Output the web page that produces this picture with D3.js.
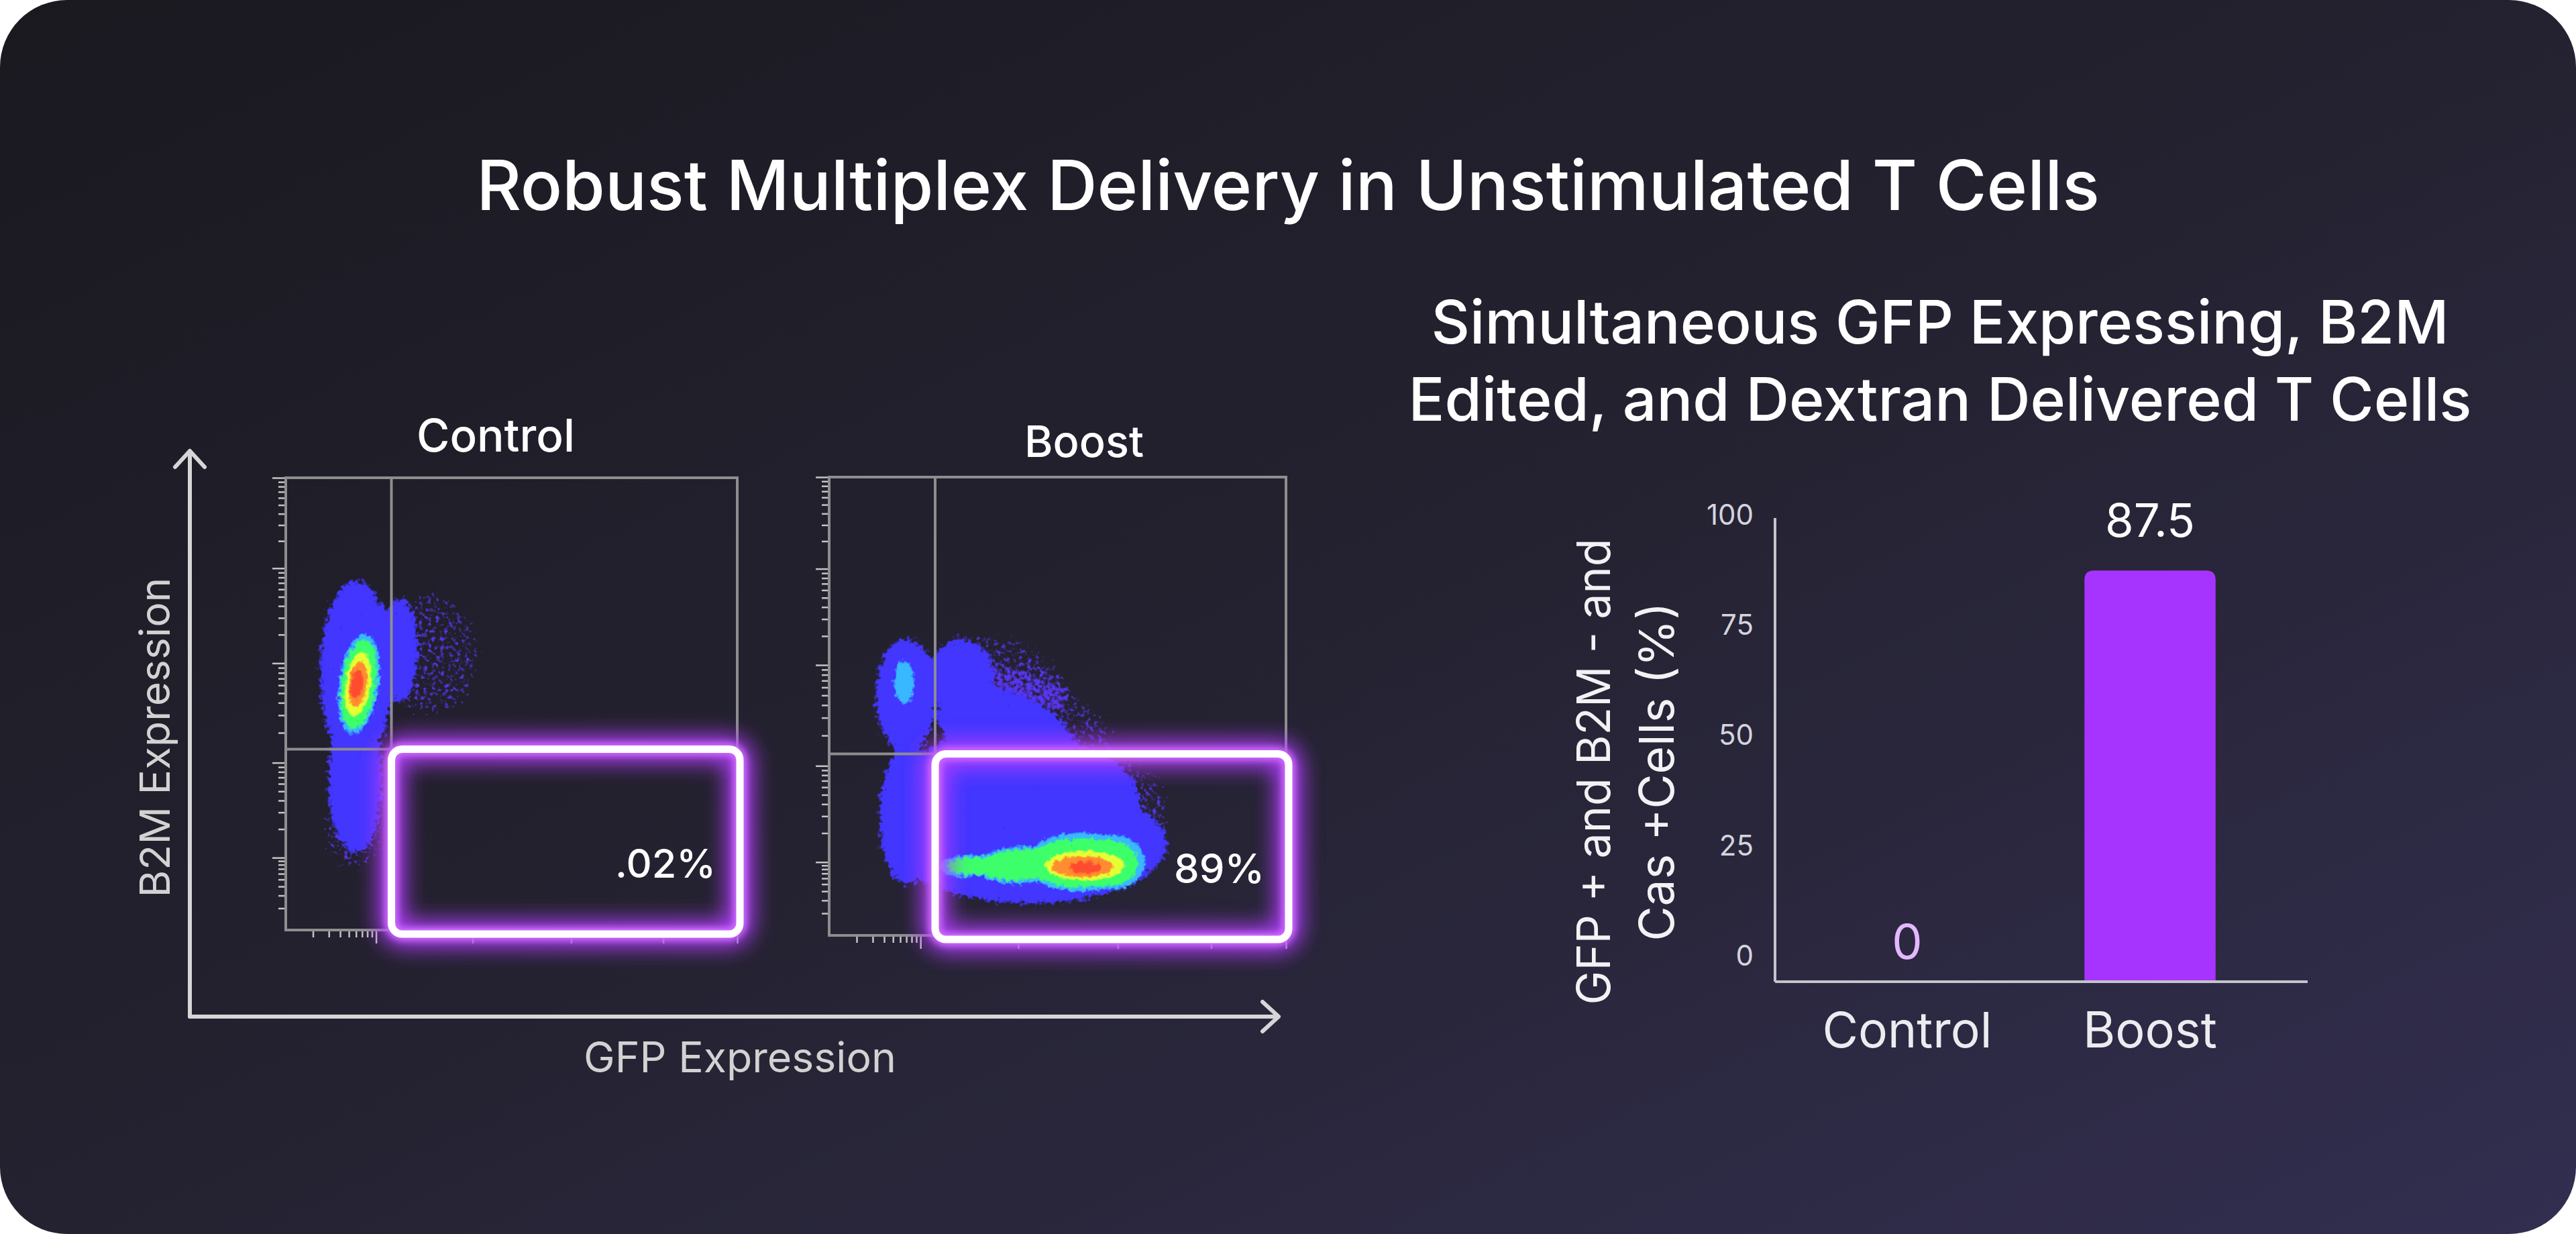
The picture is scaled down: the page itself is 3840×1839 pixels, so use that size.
<!DOCTYPE html>
<html><head><meta charset="utf-8">
<script src="https://cdn.jsdelivr.net/npm/d3@7"></script>
<style>html,body{margin:0;padding:0;background:#ffffff;overflow:hidden}svg{display:block}</style>
</head><body>
<svg id="c" width="3840" height="1839"></svg>
<script>
// ---------------- DATA ----------------
const titleText = "Robust Multiplex Delivery in Unstimulated T Cells";
const subtitleLines = ["Simultaneous GFP Expressing, B2M", "Edited, and Dextran Delivered T Cells"];
const barCategories = ["Control", "Boost"];
const barValues = [0, 87.5];
const barValueLabels = ["0", "87.5"];
const barTicks = [0, 25, 50, 75, 100];
const barYTitle = ["GFP + and B2M - and", "Cas +Cells (%)"];
const flowPanels = ["Control", "Boost"];
const flowGateLabels = [".02%", "89%"];
const flowGateX = [1.17, 1.16];
const flowGateY = [2.0, 1.98];
const flowXMajor = [1.0, 2.07, 3.16, 4.18, 5.0];
const flowYMajor = [0.8, 1.85, 2.95, 4.0, 5.0];
const flowXLabel = "GFP Expression";
const flowYLabel = "B2M Expression";
// density populations: [level, cx, cy, rx, ry, tiltDeg]  (axis units, 0..5 decades)
const controlDensity = [
  [0, 1.6, 3.05, 0.55, 0.7, 0],
  [0, 0.75, 1.1, 0.35, 0.45, 0],
  [1, 0.78, 2.85, 0.40, 1.02, 0],
  [1, 0.77, 1.65, 0.30, 0.80, 0],
  [1, 1.26, 3.1, 0.2, 0.58, 0],
  [2, 0.81, 2.72, 0.22, 0.56, 8],
  [3, 0.81, 2.72, 0.19, 0.50, 8],
  [4, 0.80, 2.72, 0.14, 0.36, 8],
  [5, 0.80, 2.72, 0.10, 0.26, 8],
  [6, 0.79, 2.72, 0.065, 0.17, 8]
];
const boostDensity = [
  [0, 2.15, 2.3, 1.05, 0.55, 18],
  [0, 1.9, 2.85, 0.75, 0.42, 20],
  [0, 3.2, 1.35, 0.55, 0.55, 0],
  [1, 0.84, 2.62, 0.33, 0.62, 0],
  [1, 1.45, 2.85, 0.35, 0.38, 0],
  [1, 1.95, 2.2, 0.80, 0.45, 22],
  [1, 2.2, 1.0, 1.5, 0.65, 0],
  [1, 2.1, 1.6, 1.3, 0.6, 5],
  [1, 0.85, 1.3, 0.30, 0.75, 0],
  [2, 0.82, 2.76, 0.11, 0.24, 0],
  [2, 1.5, 0.76, 0.30, 0.12, -3],
  [2, 2.1, 0.77, 0.50, 0.20, -3],
  [2, 2.75, 0.80, 0.60, 0.32, 0],
  [2, 3.1, 0.80, 0.36, 0.30, 0],
  [3, 1.55, 0.76, 0.26, 0.095, -3],
  [3, 2.1, 0.77, 0.47, 0.17, -3],
  [3, 2.75, 0.79, 0.56, 0.27, 0],
  [3, 3.05, 0.79, 0.33, 0.25, 0],
  [4, 2.8, 0.76, 0.44, 0.16, 0],
  [5, 2.77, 0.75, 0.34, 0.115, 0],
  [6, 2.8, 0.74, 0.18, 0.065, 0]
];
const densitySets = [controlDensity, boostDensity];

// ---------------- STYLE / LAYOUT ----------------
const W = 3840, H = 1839;
const FONT = "Inter, 'Noto Sans', 'DejaVu Sans', sans-serif";
const levelColors = ["#5a34ee", "#4236ff", "#38b8ff", "#3cff6a", "#e6ff34", "#ff8c30", "#ff4c30"];
const levelFillOpacity = [0.36, 1, 1, 1, 1, 1, 1];
const levelFilter = ["speck0", "speck1", "speck2", "speck2", "speck3", "speck3", "speck3"];
const panels = [
  {x0: 426, x1: 1099, y0: 712, y1: 1386, titleX: 739, titleY: 673},
  {x0: 1236, x1: 1917, y0: 711, y1: 1394, titleX: 1616, titleY: 681}
];

const svg = d3.select("#c");
const defs = svg.append("defs");

function fit(sel, w) {
  const L = sel.node().getComputedTextLength();
  const fs = parseFloat(sel.attr("font-size"));
  if (L > 0) sel.attr("font-size", (fs * w / L).toFixed(2));
  return sel;
}

// background
const bg = defs.append("linearGradient").attr("id", "bg").attr("x1", 0).attr("y1", 0).attr("x2", 1).attr("y2", 1);
bg.append("stop").attr("offset", 0).attr("stop-color", "#1a1920");
bg.append("stop").attr("offset", 0.5).attr("stop-color", "#242230");
bg.append("stop").attr("offset", 1).attr("stop-color", "#322e50");
svg.append("rect").attr("width", W).attr("height", H).attr("rx", 100).attr("ry", 100).attr("fill", "url(#bg)");

// filters
const fGlow = defs.append("filter").attr("id", "glow").attr("x", "-20%").attr("y", "-30%").attr("width", "140%").attr("height", "160%");
fGlow.append("feGaussianBlur").attr("stdDeviation", 16);
const fGlow2 = defs.append("filter").attr("id", "glow2").attr("x", "-20%").attr("y", "-30%").attr("width", "140%").attr("height", "160%");
fGlow2.append("feGaussianBlur").attr("stdDeviation", 5);

// grainy density filter: blurred alpha + noise, thresholded
function speckFilter(id, blur, freq, seed, slope) {
  const f = defs.append("filter").attr("id", id).attr("x", "-30%").attr("y", "-30%").attr("width", "160%").attr("height", "160%")
    .attr("color-interpolation-filters", "sRGB");
  f.append("feGaussianBlur").attr("in", "SourceGraphic").attr("stdDeviation", blur).attr("result", "b");
  f.append("feColorMatrix").attr("in", "b").attr("type", "matrix")
    .attr("values", "1 0 0 0 0  0 1 0 0 0  0 0 1 0 0  0 0 0 0 1").attr("result", "solid");
  f.append("feTurbulence").attr("type", "fractalNoise").attr("baseFrequency", freq).attr("numOctaves", 2).attr("seed", seed).attr("result", "n0");
  f.append("feColorMatrix").attr("in", "n0").attr("type", "matrix")
    .attr("values", "0 0 0 0 0  0 0 0 0 0  0 0 0 0 0  1 0 0 0 0").attr("result", "n");
  f.append("feComposite").attr("in", "b").attr("in2", "n").attr("operator", "arithmetic")
    .attr("k1", 0).attr("k2", 0.5).attr("k3", 0.5).attr("k4", 0).attr("result", "m0");
  const ct = f.append("feComponentTransfer").attr("in", "m0").attr("result", "m");
  ct.append("feFuncA").attr("type", "linear").attr("slope", slope).attr("intercept", -slope * 0.5 + 0.5);
  f.append("feComposite").attr("in", "solid").attr("in2", "m").attr("operator", "in");
}
speckFilter("speck0", 9, 0.16, 3, 7);
speckFilter("speck1", 7, 0.15, 5, 7);
speckFilter("speck2", 4, 0.16, 9, 6);
speckFilter("speck3", 3, 0.14, 13, 5);

// ---------------- TITLES ----------------
fit(svg.append("text").text(titleText).attr("x", 1920).attr("y", 313).attr("text-anchor", "middle")
  .attr("font-family", FONT).attr("font-weight", 500).attr("font-size", 100).attr("fill", "#ffffff"), 2420);
const subW = [1517, 1585], subY = [512, 627];
subtitleLines.forEach((s, i) => {
  fit(svg.append("text").text(s).attr("x", 2892).attr("y", subY[i]).attr("text-anchor", "middle")
    .attr("font-family", FONT).attr("font-weight", 500).attr("font-size", 90).attr("fill", "#ffffff"), subW[i]);
});

// ---------------- FLOW PANELS ----------------
const arrowColor = "#d6d6d6";
const ax = svg.append("g").attr("stroke", arrowColor).attr("stroke-width", 6).attr("fill", "none").attr("stroke-linecap", "round").attr("stroke-linejoin", "round");
ax.append("path").attr("d", "M283,1515 L283,672 M261,696 L283,672 L305,696");
ax.append("path").attr("d", "M283,1515 L1906,1515 M1882,1493 L1906,1515 L1882,1537");
fit(svg.append("text").text(flowYLabel).attr("transform", "translate(253,1099) rotate(-90)").attr("text-anchor", "middle")
  .attr("font-family", FONT).attr("font-weight", 400).attr("font-size", 70).attr("fill", "#d2d2d2"), 477);
fit(svg.append("text").text(flowXLabel).attr("x", 1103).attr("y", 1598).attr("text-anchor", "middle")
  .attr("font-family", FONT).attr("font-weight", 400).attr("font-size", 70).attr("fill", "#d2d2d2"), 466);

function logTicks(majors) {
  const out = [];
  const ext = [0].concat(majors);
  for (let i = 0; i < ext.length - 1; i++) {
    const a = ext[i], b = ext[i + 1];
    for (let k = 2; k <= 9; k++) out.push(a + Math.log10(k) * (b - a));
  }
  return out;
}

flowPanels.forEach((name, pi) => {
  const P = panels[pi];
  const xs = d3.scaleLinear().domain([0, 5]).range([P.x0, P.x1]);
  const ys = d3.scaleLinear().domain([0, 5]).range([P.y1, P.y0]);
  const g = svg.append("g");

  fit(g.append("text").text(name).attr("x", P.titleX).attr("y", P.titleY).attr("text-anchor", "middle")
    .attr("font-family", FONT).attr("font-weight", 500).attr("font-size", 66).attr("fill", "#ffffff"), pi === 0 ? 236 : 178);

  const cid = "clip" + pi;
  defs.append("clipPath").attr("id", cid).append("rect")
    .attr("x", P.x0).attr("y", P.y0).attr("width", P.x1 - P.x0).attr("height", P.y1 - P.y0);

  // density
  const dg = g.append("g").attr("clip-path", "url(#" + cid + ")");
  const byLevel = d3.group(densitySets[pi], d => d[0]);
  [...byLevel.keys()].sort((a, b) => a - b).forEach(lv => {
    const lg = dg.append("g").attr("filter", "url(#" + levelFilter[lv] + ")");
    lg.selectAll("ellipse").data(byLevel.get(lv)).join("ellipse")
      .attr("fill", levelColors[lv]).attr("fill-opacity", levelFillOpacity[lv])
      .attr("cx", d => xs(d[1])).attr("cy", d => ys(d[2]))
      .attr("rx", d => xs(d[3]) - xs(0)).attr("ry", d => ys(0) - ys(d[4]))
      .attr("transform", d => `rotate(${d[5]},${xs(d[1])},${ys(d[2])})`);
  });

  // frame + gates
  const frame = g.append("g").attr("stroke", "#8e8e8e").attr("stroke-width", 4).attr("fill", "none");
  frame.append("rect").attr("x", P.x0).attr("y", P.y0).attr("width", P.x1 - P.x0).attr("height", P.y1 - P.y0);
  frame.append("line").attr("x1", xs(flowGateX[pi])).attr("x2", xs(flowGateX[pi])).attr("y1", P.y0).attr("y2", ys(flowGateY[pi]));
  frame.append("line").attr("x1", P.x0).attr("x2", xs(flowGateX[pi])).attr("y1", ys(flowGateY[pi])).attr("y2", ys(flowGateY[pi]));

  // axis ticks
  const tickCol = "#c4c4c4";
  const yAxMinor = g.append("g").attr("transform", `translate(${P.x0 - 2},0)`)
    .call(d3.axisLeft(ys).tickValues(logTicks(flowYMajor)).tickSize(9).tickFormat(""));
  const yAxMajor = g.append("g").attr("transform", `translate(${P.x0 - 2},0)`)
    .call(d3.axisLeft(ys).tickValues(flowYMajor).tickSize(18).tickFormat(""));
  const xAxMinor = g.append("g").attr("transform", `translate(0,${P.y1 + 2})`)
    .call(d3.axisBottom(xs).tickValues(logTicks(flowXMajor)).tickSize(9).tickFormat(""));
  const xAxMajor = g.append("g").attr("transform", `translate(0,${P.y1 + 2})`)
    .call(d3.axisBottom(xs).tickValues(flowXMajor).tickSize(18).tickFormat(""));
  [yAxMinor, yAxMajor, xAxMinor, xAxMajor].forEach(a => {
    a.select(".domain").remove();
    a.selectAll(".tick line").attr("stroke", tickCol).attr("stroke-width", 2.5);
  });

  // glowing gate box
  const bx = xs(flowGateX[pi]), by = ys(flowGateY[pi]);
  const bw = P.x1 + 4 - bx, bh = P.y1 + 6 - by;
  const box = g.append("g");
  box.append("rect").attr("x", bx).attr("y", by).attr("width", bw).attr("height", bh).attr("rx", 18)
    .attr("fill", "none").attr("stroke", "#b23cff").attr("stroke-width", 40).attr("filter", "url(#glow)").attr("opacity", 0.95);
  box.append("rect").attr("x", bx).attr("y", by).attr("width", bw).attr("height", bh).attr("rx", 18)
    .attr("fill", "none").attr("stroke", "#cf6bff").attr("stroke-width", 20).attr("filter", "url(#glow2)");
  box.append("rect").attr("x", bx).attr("y", by).attr("width", bw).attr("height", bh).attr("rx", 16)
    .attr("fill", "none").attr("stroke", "#ffffff").attr("stroke-width", 11);

  fit(g.append("text").text(flowGateLabels[pi]).attr("x", P.x1 - 32).attr("y", P.y1 - 78).attr("text-anchor", "end")
    .attr("font-family", FONT).attr("font-weight", 500).attr("font-size", 60).attr("fill", "#ffffff"), pi === 0 ? 150 : 135);
});

// ---------------- BAR CHART ----------------
const baseY = 1463, axisX = 2646;
const yb = d3.scaleLinear().domain([0, 100]).range([1425, 768]);
const xb = d3.scaleBand().domain(barCategories).range([2662, 3386]).paddingInner(0.46).paddingOuter(0.23);
const bc = svg.append("g");

const yAxis = bc.append("g").attr("transform", `translate(${axisX},0)`)
  .call(d3.axisLeft(yb).tickValues(barTicks).tickSize(0).tickPadding(32));
yAxis.select(".domain").remove();
yAxis.selectAll(".tick text").attr("font-family", FONT).attr("font-size", 42).attr("fill", "#d4d4dc");

bc.selectAll("path.bar").data(barCategories.map((c, i) => ({c, v: barValues[i]})).filter(d => d.v > 0)).join("path")
  .attr("class", "bar").attr("fill", "#a733ff")
  .attr("d", d => {
    const x0 = xb(d.c), w = xb.bandwidth(), y0 = yb(d.v), r = 14;
    return `M${x0},${baseY} L${x0},${y0 + r} Q${x0},${y0} ${x0 + r},${y0} L${x0 + w - r},${y0} Q${x0 + w},${y0} ${x0 + w},${y0 + r} L${x0 + w},${baseY} Z`;
  });

bc.append("line").attr("x1", axisX).attr("x2", axisX).attr("y1", 772).attr("y2", baseY).attr("stroke", "#c4c4cc").attr("stroke-width", 4);
bc.append("line").attr("x1", axisX).attr("x2", 3440).attr("y1", baseY).attr("y2", baseY).attr("stroke", "#c4c4cc").attr("stroke-width", 4);

barCategories.forEach((c, i) => {
  const v = barValues[i];
  const cx = xb(c) + xb.bandwidth() / 2;
  const t = bc.append("text").text(barValueLabels[i]).attr("x", cx).attr("text-anchor", "middle")
    .attr("font-family", FONT).attr("font-weight", 400).attr("font-size", 72)
    .attr("y", v > 0 ? yb(v) - 50 : baseY - 34)
    .attr("fill", v > 0 ? "#ffffff" : "#e4b8ff");
  if (v > 0) fit(t, 134);
  fit(bc.append("text").text(c).attr("x", cx).attr("y", 1561).attr("text-anchor", "middle")
    .attr("font-family", FONT).attr("font-weight", 400).attr("font-size", 78).attr("fill", "#ececf0"), i === 0 ? 253 : 200);
});

const ytW = [695, 505], ytX = [2400, 2495];
barYTitle.forEach((s, i) => {
  fit(bc.append("text").text(s).attr("transform", `translate(${ytX[i]},1150) rotate(-90)`).attr("text-anchor", "middle")
    .attr("font-family", FONT).attr("font-weight", 400).attr("font-size", 80).attr("fill", "#f2f2f4"), ytW[i]);
});
</script>
</body></html>
